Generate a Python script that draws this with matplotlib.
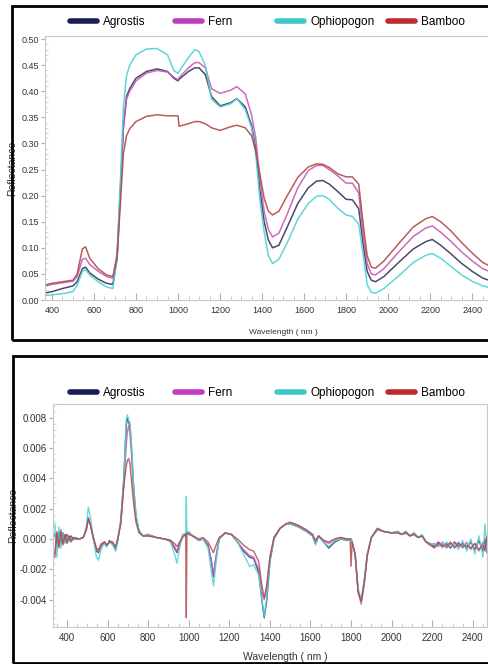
import matplotlib
matplotlib.use("Agg")
import matplotlib.pyplot as plt
from matplotlib.patches import Rectangle
from matplotlib.lines import Line2D
from matplotlib.ticker import MultipleLocator

plt.rcParams['font.family'] = ['Liberation Sans Narrow', 'Liberation Sans', 'DejaVu Sans']

# ---------------- datos: reflectancia (panel superior) ----------------
wl = [350, 400, 450, 500, 520, 545, 560, 580, 620, 660, 690, 710, 725, 740, 755, 770,
      800, 850, 900, 950, 980, 1000, 1005, 1050, 1080, 1100, 1130, 1160, 1200, 1250,
      1280, 1320, 1350, 1370, 1390, 1410, 1430, 1450, 1480, 1520, 1570, 1620, 1660,
      1690, 1720, 1760, 1800, 1830, 1860, 1880, 1900, 1920, 1940, 1980, 2050, 2120,
      2180, 2210, 2250, 2300, 2350, 2400, 2450, 2500]

agrostis = [0.012, 0.016, 0.022, 0.027, 0.035, 0.060, 0.063, 0.052, 0.040, 0.032, 0.030,
            0.080, 0.200, 0.330, 0.390, 0.405, 0.425, 0.438, 0.443, 0.438, 0.425, 0.420,
            0.423, 0.438, 0.445, 0.445, 0.432, 0.390, 0.372, 0.378, 0.386, 0.370, 0.335,
            0.290, 0.210, 0.150, 0.115, 0.100, 0.105, 0.140, 0.185, 0.215, 0.228, 0.229,
            0.222, 0.208, 0.193, 0.192, 0.175, 0.110, 0.055, 0.038, 0.035, 0.045, 0.072,
            0.098, 0.112, 0.116, 0.105, 0.088, 0.070, 0.055, 0.042, 0.035]

fern = [0.025, 0.030, 0.033, 0.036, 0.045, 0.078, 0.080, 0.068, 0.055, 0.045, 0.042,
        0.090, 0.210, 0.330, 0.385, 0.400, 0.420, 0.435, 0.440, 0.437, 0.427, 0.422,
        0.426, 0.445, 0.455, 0.455, 0.445, 0.405, 0.396, 0.402, 0.409, 0.395, 0.355,
        0.310, 0.230, 0.170, 0.135, 0.121, 0.128, 0.165, 0.215, 0.248, 0.258, 0.258,
        0.250, 0.238, 0.224, 0.224, 0.205, 0.130, 0.070, 0.050, 0.048, 0.060, 0.092,
        0.122, 0.138, 0.142, 0.130, 0.112, 0.092, 0.075, 0.060, 0.052]

ophiopogon = [0.008, 0.010, 0.012, 0.016, 0.028, 0.055, 0.058, 0.048, 0.035, 0.025, 0.022,
              0.080, 0.220, 0.370, 0.430, 0.450, 0.470, 0.481, 0.482, 0.470, 0.440, 0.434,
              0.438, 0.465, 0.480, 0.476, 0.450, 0.385, 0.370, 0.376, 0.386, 0.365, 0.330,
              0.280, 0.190, 0.130, 0.085, 0.070, 0.078, 0.110, 0.155, 0.185, 0.199, 0.200,
              0.193, 0.176, 0.163, 0.160, 0.145, 0.090, 0.030, 0.015, 0.013, 0.022, 0.046,
              0.072, 0.086, 0.089, 0.080, 0.064, 0.048, 0.036, 0.027, 0.022]

bamboo = [0.027, 0.032, 0.035, 0.038, 0.050, 0.098, 0.102, 0.080, 0.060, 0.048, 0.045,
          0.080, 0.180, 0.280, 0.315, 0.328, 0.342, 0.352, 0.355, 0.353, 0.353, 0.353,
          0.333, 0.338, 0.342, 0.342, 0.338, 0.330, 0.325, 0.332, 0.335, 0.330, 0.315,
          0.285, 0.240, 0.195, 0.170, 0.163, 0.170, 0.200, 0.235, 0.255, 0.261, 0.260,
          0.254, 0.242, 0.236, 0.236, 0.222, 0.150, 0.085, 0.063, 0.061, 0.075, 0.108,
          0.140, 0.156, 0.160, 0.150, 0.132, 0.110, 0.090, 0.072, 0.062]

# ---------------- datos: primera derivada (panel inferior) ----------------
wl_d = [340, 350, 360, 370, 380, 390, 400, 410, 420, 430, 440, 460, 480, 495, 505, 515,
        530, 545, 555, 570, 585, 595, 610, 625, 640, 650, 665, 680, 692, 698, 704, 710,
        718, 728, 740, 755, 775, 800, 840, 880, 910, 930, 942, 955, 970, 985, 988, 991,
        1000, 1020, 1050, 1070, 1095, 1110, 1122, 1135, 1150, 1180, 1210, 1240, 1270,
        1300, 1320, 1345, 1360, 1372, 1385, 1400, 1420, 1450, 1480, 1500, 1540, 1580,
        1610, 1625, 1640, 1665, 1690, 1720, 1750, 1780, 1795, 1800, 1805, 1820, 1835,
        1850, 1865, 1880, 1900, 1930, 1960, 2000, 2030, 2050, 2070, 2090, 2110, 2130,
        2150, 2170, 2190, 2210, 2230, 2250, 2270, 2290, 2310, 2330, 2350, 2370, 2390,
        2410, 2430, 2450, 2460, 2470, 2480, 2490, 2500]

d_agrostis = [0.0003, -0.0004, 0.0005, -0.0003, 0.0004, -0.0002, 0.0003, -0.0001, 0.0002,
              0.0000, 0.0001, 0.0000, 0.0001, 0.0006, 0.0014, 0.0010, 0.0000, -0.0008,
              -0.0009, -0.0004, -0.0002, -0.0005, -0.0001, -0.0003, -0.0007, -0.0001,
              0.0012, 0.0040, 0.0075, 0.0080, 0.0077, 0.0075, 0.0060, 0.0035, 0.0015,
              0.0005, 0.0002, 0.0003, 0.0001, 0.0000, -0.0001, -0.0006, -0.0009, -0.0004,
              0.0002, 0.0003, 0.0003, 0.0004, 0.0004, 0.0002, -0.0001, 0.0000, -0.0004,
              -0.0014, -0.0025, -0.0012, 0.0000, 0.0004, 0.0003, -0.0002, -0.0008, -0.0012,
              -0.0013, -0.0022, -0.0040, -0.0052, -0.0040, -0.0015, 0.0000, 0.0007, 0.0010,
              0.0010, 0.0008, 0.0005, 0.0002, -0.0003, 0.0002, -0.0002, -0.0006, -0.0002,
              0.0000, -0.0001, 0.0000, 0.0000, -0.0002, -0.0010, -0.0035, -0.0041, -0.0028,
              -0.0010, 0.0001, 0.0006, 0.0005, 0.0004, 0.0005, 0.0003, 0.0005, 0.0002,
              0.0004, 0.0001, 0.0002, -0.0002, -0.0003, -0.0005, -0.0002, -0.0005, -0.0003,
              -0.0006, -0.0002, -0.0005, -0.0003, -0.0006, -0.0002, -0.0007, -0.0001,
              -0.0008, 0.0000, -0.0009, 0.0004, -0.0006, 0.0006]

d_fern = [-0.0010, 0.0005, -0.0006, 0.0004, -0.0003, 0.0003, -0.0002, 0.0002, -0.0001,
          0.0001, 0.0000, 0.0000, 0.0001, 0.0006, 0.0014, 0.0010, 0.0001, -0.0007,
          -0.0008, -0.0004, -0.0002, -0.0004, -0.0002, -0.0003, -0.0006, 0.0000,
          0.0010, 0.0035, 0.0062, 0.0071, 0.0075, 0.0070, 0.0055, 0.0032, 0.0014,
          0.0005, 0.0002, 0.0002, 0.0001, 0.0000, -0.0001, -0.0005, -0.0008, -0.0003,
          0.0002, 0.0003, 0.0003, 0.0004, 0.0004, 0.0002, -0.0001, 0.0000, -0.0004,
          -0.0013, -0.0023, -0.0011, 0.0000, 0.0004, 0.0003, -0.0002, -0.0007, -0.0011,
          -0.0012, -0.0020, -0.0035, -0.0040, -0.0032, -0.0012, 0.0001, 0.0007, 0.0010,
          0.0011, 0.0009, 0.0006, 0.0003, -0.0002, 0.0002, -0.0001, -0.0003, 0.0000,
          0.0001, 0.0000, 0.0000, 0.0000, -0.0002, -0.0010, -0.0035, -0.0043, -0.0030,
          -0.0011, 0.0001, 0.0007, 0.0005, 0.0004, 0.0004, 0.0003, 0.0004, 0.0002,
          0.0003, 0.0001, 0.0002, -0.0002, -0.0004, -0.0003, -0.0005, -0.0002, -0.0006,
          -0.0003, -0.0005, -0.0002, -0.0006, -0.0002, -0.0007, -0.0003, -0.0008,
          -0.0002, -0.0007, 0.0001, -0.0009, 0.0002, -0.0005]

d_ophiopogon = [0.0010, -0.0012, 0.0008, -0.0006, 0.0004, -0.0003, 0.0002, -0.0002, 0.0001,
                -0.0001, 0.0001, 0.0000, 0.0001, 0.0008, 0.0021, 0.0015, 0.0000, -0.0012,
                -0.0014, -0.0006, -0.0003, -0.0005, -0.0002, -0.0004, -0.0008, 0.0000,
                0.0012, 0.0040, 0.0079, 0.0082, 0.0078, 0.0077, 0.0062, 0.0036, 0.0016,
                0.0006, 0.0002, 0.0003, 0.0001, 0.0000, -0.0002, -0.0010, -0.0016, -0.0006,
                0.0003, 0.0004, 0.0028, 0.0004, 0.0005, 0.0002, -0.0001, 0.0000, -0.0006,
                -0.0020, -0.0031, -0.0015, 0.0000, 0.0004, 0.0003, -0.0002, -0.0010, -0.0018,
                -0.0017, -0.0024, -0.0040, -0.0051, -0.0038, -0.0014, 0.0000, 0.0007, 0.0010,
                0.0010, 0.0008, 0.0005, 0.0002, -0.0004, 0.0002, -0.0002, -0.0005, -0.0001,
                0.0000, -0.0001, 0.0000, 0.0000, -0.0002, -0.0010, -0.0033, -0.0040, -0.0027,
                -0.0010, 0.0001, 0.0006, 0.0005, 0.0004, 0.0005, 0.0003, 0.0005, 0.0002,
                0.0004, 0.0001, 0.0003, -0.0002, -0.0003, -0.0004, -0.0003, -0.0006, -0.0002,
                -0.0005, -0.0003, -0.0007, -0.0001, -0.0008, 0.0000, -0.0010, 0.0002,
                -0.0012, 0.0010, -0.0008, 0.0018, -0.0010, 0.0015]

d_bamboo = [-0.0012, 0.0004, -0.0005, 0.0006, -0.0004, 0.0003, -0.0003, 0.0002, -0.0002,
            0.0001, 0.0000, 0.0000, 0.0001, 0.0006, 0.0013, 0.0009, 0.0001, -0.0006,
            -0.0007, -0.0003, -0.0002, -0.0004, -0.0002, -0.0002, -0.0005, 0.0000,
            0.0010, 0.0035, 0.0048, 0.0052, 0.0053, 0.0050, 0.0038, 0.0024, 0.0011,
            0.0004, 0.0002, 0.0002, 0.0001, 0.0000, -0.0001, -0.0003, -0.0005, -0.0002,
            0.0001, 0.0003, -0.0052, 0.0004, 0.0003, 0.0002, 0.0000, 0.0001, -0.0002,
            -0.0006, -0.0009, -0.0004, 0.0001, 0.0004, 0.0003, 0.0000, -0.0004, -0.0007,
            -0.0008, -0.0015, -0.0030, -0.0039, -0.0030, -0.0012, 0.0001, 0.0007, 0.0010,
            0.0011, 0.0009, 0.0006, 0.0003, -0.0001, 0.0002, -0.0001, -0.0002, 0.0000,
            0.0001, 0.0000, 0.0000, -0.0018, -0.0002, -0.0010, -0.0035, -0.0041, -0.0029,
            -0.0011, 0.0001, 0.0007, 0.0005, 0.0004, 0.0004, 0.0003, 0.0004, 0.0002,
            0.0003, 0.0001, 0.0002, -0.0002, -0.0004, -0.0006, -0.0003, -0.0004, -0.0005,
            -0.0002, -0.0006, -0.0003, -0.0005, -0.0004, -0.0006, -0.0003, -0.0007,
            -0.0004, -0.0008, 0.0002, -0.0006, 0.0003, -0.0002]

names = ['Agrostis', 'Fern', 'Ophiopogon', 'Bamboo']
legend_colors = ['#1c1c5a', '#c03cc0', '#3fc8c8', '#c02a2a']
line_colors = ['#35355e', '#c35cb5', '#4fd2d2', '#b24a4a']

W, H = 489, 664
fig = plt.figure(figsize=(W / 100, H / 100), dpi=100)


def px_axes(left, top, right, bottom):
    return fig.add_axes([left / W, 1 - bottom / H, (right - left) / W, (bottom - top) / H])


def style_axes(ax, fs):
    for s in ax.spines.values():
        s.set_color('#c8c8c8')
        s.set_linewidth(0.8)
    ax.xaxis.set_major_locator(MultipleLocator(200))
    ax.xaxis.set_minor_locator(MultipleLocator(50))
    ax.tick_params(axis='x', which='major', direction='in', length=5, width=0.8,
                   color='#b0b0b0', labelsize=fs, labelcolor='#333333', pad=4)
    ax.tick_params(axis='x', which='minor', direction='in', length=3, width=0.6, color='#c0c0c0')
    ax.tick_params(axis='y', which='major', direction='out', length=3, width=0.8,
                   color='#b0b0b0', labelsize=fs, labelcolor='#333333', pad=1.5)
    ax.tick_params(axis='y', which='minor', direction='in', length=2, width=0.5, color='#c8c8c8')


def add_legend(y):
    xs = [70, 175, 277, 388]
    for name, c, x in zip(names, legend_colors, xs):
        h = Line2D([], [], color=c, lw=4, solid_capstyle='round')
        fig.legend([h], [name], loc='center left', bbox_to_anchor=(x / W, 1 - y / H),
                   frameon=False, fontsize=8.5, handlelength=2.3, handletextpad=0.5,
                   borderpad=0, borderaxespad=0)


# panel superior
ax1 = px_axes(45, 36, 489, 300)
for y, c in zip([agrostis, fern, ophiopogon, bamboo], line_colors):
    ax1.plot(wl, y, color=c, lw=1.1, alpha=0.9)
ax1.set_xlim(367, 2480)
ax1.set_ylim(0, 0.506)
ax1.yaxis.set_major_locator(MultipleLocator(0.05))
ax1.yaxis.set_minor_locator(MultipleLocator(0.01))
ax1.yaxis.set_major_formatter(matplotlib.ticker.FormatStrFormatter('%.2f'))
style_axes(ax1, 6.5)
ax1.set_ylabel('Reflectance', fontsize=7.5, color='#333333')
ax1.yaxis.set_label_coords(-0.063, 0.5)
ax1.set_xlabel('Wavelength ( nm )', fontsize=6, color='#333333')
ax1.xaxis.set_label_coords(0.538, -0.11)
add_legend(22)

# panel inferior
ax2 = px_axes(53, 404, 487, 627)
for y, c in zip([d_agrostis, d_fern, d_ophiopogon, d_bamboo], line_colors):
    ax2.plot(wl_d, y, color=c, lw=1.0, alpha=0.85)
ax2.set_xlim(331, 2470)
ax2.set_ylim(-0.00581, 0.00891)
ax2.yaxis.set_major_locator(MultipleLocator(0.002))
ax2.yaxis.set_minor_locator(MultipleLocator(0.0004))
ax2.yaxis.set_major_formatter(matplotlib.ticker.FormatStrFormatter('%.3f'))
style_axes(ax2, 7)
ax2.set_ylabel('Reflectance', fontsize=7.5, color='#333333')
ax2.yaxis.set_label_coords(-0.081, 0.5)
ax2.set_xlabel('Wavelength ( nm )', fontsize=7.5, color='#333333')
ax2.xaxis.set_label_coords(0.535, -0.11)
add_legend(393)

# marcos negros de cada panel
fig.add_artist(Rectangle((12 / W, 1 - 340 / H), 480 / W, 334 / H, transform=fig.transFigure,
                         fill=False, lw=2, ec='black'))
fig.add_artist(Rectangle((13 / W, 1 - 663 / H), 480 / W, 307 / H, transform=fig.transFigure,
                         fill=False, lw=2, ec='black'))

fig.savefig('out.png', dpi=100)
